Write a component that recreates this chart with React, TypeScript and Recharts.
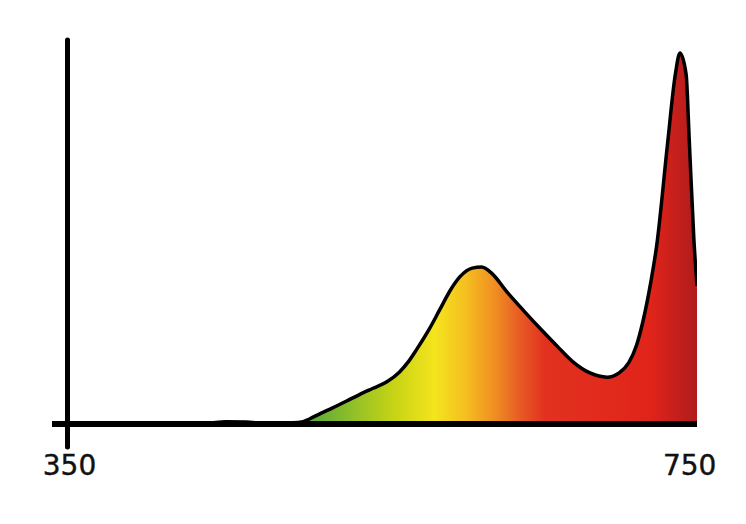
import { AreaChart, Area, XAxis, YAxis, ReferenceLine } from "recharts";

// wavelength (nm) and relative intensity
const wavelengths = [
  350, 400, 440, 452, 465, 480, 495, 502, 506, 513, 521, 530, 538, 547, 556, 564, 570, 575,
  583, 590, 597, 603, 611, 617, 624, 633, 644, 655, 666, 676, 687, 698, 706, 712, 717, 721,
  726, 730, 737, 742, 745, 749, 751, 754, 756,
];
const intensity = [
  0, 0, 0.2, 0.6, 0.5, 0.2, 0.3, 0.6, 1.3, 2.7, 4.2, 6, 7.6, 9.3, 11, 13.5, 16.3, 19.3,
  24.5, 29.7, 34.9, 38.3, 40.6, 40.9, 39.1, 34.6, 29.6, 24.8, 20.2, 16.2, 13.3, 12.2, 13.4, 16, 20.5, 26.5,
  36.5, 46.5, 73, 91, 96.6, 91, 74, 48, 36,
];
const tickLabels = [350, 750];

const chartData = wavelengths.map((nm, i) => ({ nm, value: intensity[i] }));

// spectrum colours, left to right
const STOPS = [
  { offset: 0, color: "#5aa83a" },
  { offset: 0.385, color: "#5aa83a" },
  { offset: 0.448, color: "#8cbe2a" },
  { offset: 0.52, color: "#c8d414" },
  { offset: 0.583, color: "#f4e41e" },
  { offset: 0.631, color: "#f5c020" },
  { offset: 0.679, color: "#ef8e22" },
  { offset: 0.719, color: "#e85a24" },
  { offset: 0.758, color: "#e2321f" },
  { offset: 0.925, color: "#e0241a" },
  { offset: 1, color: "#b01c1c" },
];

function Tick(props: any) {
  const { x, y, payload } = props;
  return (
    <text
      x={x + 2}
      y={y + 51}
      textAnchor="middle"
      fontFamily="'DejaVu Sans', sans-serif"
      fontSize={28}
      fill="#111"
      stroke="#111"
      strokeWidth={0.4}
    >
      {payload.value}
    </text>
  );
}

export default function App() {
  return (
    <AreaChart
      width={730}
      height={500}
      data={chartData}
      margin={{ top: 32, right: 41, bottom: 24, left: 44 }}
    >
      <defs>
        <linearGradient id="spectrum" x1="0" y1="0" x2="1" y2="0">
          {STOPS.map((s, i) => (
            <stop key={i} offset={s.offset} stopColor={s.color} />
          ))}
        </linearGradient>
      </defs>
      <XAxis
        dataKey="nm"
        type="number"
        domain={[340, 756]}
        ticks={tickLabels}
        height={60}
        tickLine={false}
        tickSize={0}
        tickMargin={0}
        axisLine={{ stroke: "#000", strokeWidth: 6 }}
        tick={<Tick />}
        allowDataOverflow
      />
      <YAxis hide width={0} domain={[0, 100]} />
      <Area
        type="monotone"
        dataKey="value"
        stroke="#000"
        strokeWidth={3.5}
        strokeLinejoin="round"
        fill="url(#spectrum)"
        fillOpacity={1}
        isAnimationActive={false}
      />
      <ReferenceLine
        segment={[
          { x: 350, y: -6 },
          { x: 350, y: 100 },
        ]}
        ifOverflow="visible"
        stroke="#000"
        strokeWidth={5}
        strokeLinecap="round"
      />
    </AreaChart>
  );
}
